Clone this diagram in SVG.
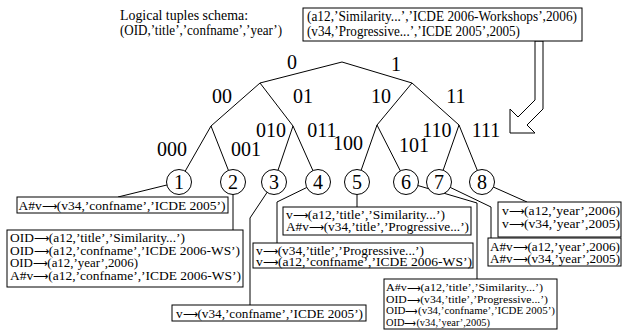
<svg xmlns="http://www.w3.org/2000/svg" width="623" height="330" viewBox="0 0 623 330" font-family="'Liberation Serif', 'Times New Roman', Times, serif">
<style>
text{font-family:'Liberation Serif','Times New Roman',Times,serif;fill:#000}
.t{font-size:12.5px}
.h{font-size:11.3px}
.s{font-size:13.8px}
.a{font-size:10px}
.ah{font-size:9px}
.lab{font-size:20px;text-anchor:middle}
.num{font-size:20px;text-anchor:middle}
.box{fill:#fff;stroke:#000;stroke-width:1}
.e{fill:none;stroke:#000;stroke-width:1}
.n{fill:#fff;stroke:#000;stroke-width:1}
</style>
<rect width="623" height="330" fill="#fff"/>
<g id="connectors">
<polyline class="e" points="260,83 342,62 412,83"/>
<polyline class="e" points="211,126 260,83 293,126"/>
<polyline class="e" points="377,125 412,83 459,125"/>
<polyline class="e" points="179,182 211,126 233,182"/>
<polyline class="e" points="274,182 293,126 318,182"/>
<polyline class="e" points="357,182 377,125 406,182"/>
<polyline class="e" points="439,182 459,125 482,182"/>
<polyline class="e" points="118,197 179,182"/>
<polyline class="e" points="233,182 233,230"/>
<polyline class="e" points="274,182 250,218 250,305"/>
<polyline class="e" points="318,182 277,202 277,243"/>
<polyline class="e" points="357,182 357,207"/>
<polyline class="e" points="406,182 477,203 477,279"/>
<polyline class="e" points="439,182 491,207 491,238"/>
<polyline class="e" points="482,182 527,202"/>
<polygon class="e" points="535,41 535,100 518,117 510,109 510,133 535,133 527,125 543,109 543,41"/>
</g>
<g id="schema">
<text class="s" x="120" y="20" textLength="128" lengthAdjust="spacingAndGlyphs">Logical tuples schema:</text>
<text class="s" x="120" y="35" textLength="162" lengthAdjust="spacingAndGlyphs">(OID,’title’,’confname’,’year’)</text>
</g>
<g id="tuples">
<rect class="box" x="303" y="8" width="279" height="33"/>
<text class="s" x="307" y="21" textLength="270" lengthAdjust="spacingAndGlyphs">(a12,’Similarity...’,’ICDE 2006-Workshops’,2006)</text>
<text class="s" x="307" y="36" textLength="213" lengthAdjust="spacingAndGlyphs">(v34,’Progressive...’,’ICDE 2005’,2005)</text>
</g>
<g id="labels">
<text class="lab" x="292" y="69">0</text>
<text class="lab" x="396" y="71">1</text>
<text class="lab" x="222" y="103">00</text>
<text class="lab" x="303" y="103">01</text>
<text class="lab" x="381" y="103">10</text>
<text class="lab" x="456" y="103">11</text>
<text class="lab" x="172" y="156">000</text>
<text class="lab" x="246" y="156">001</text>
<text class="lab" x="271" y="137">010</text>
<text class="lab" x="322" y="137">011</text>
<text class="lab" x="348" y="150">100</text>
<text class="lab" x="414" y="152">101</text>
<text class="lab" x="437" y="137">110</text>
<text class="lab" x="486" y="137">111</text>
</g>
<g id="node1"><circle class="n" cx="179" cy="182" r="12.5"/><text class="num" x="179" y="189">1</text></g>
<g id="node2"><circle class="n" cx="233" cy="182" r="12.5"/><text class="num" x="233" y="189">2</text></g>
<g id="node3"><circle class="n" cx="274" cy="182" r="12.5"/><text class="num" x="274" y="189">3</text></g>
<g id="node4"><circle class="n" cx="318" cy="182" r="12.5"/><text class="num" x="318" y="189">4</text></g>
<g id="node5"><circle class="n" cx="357" cy="182" r="12.5"/><text class="num" x="357" y="189">5</text></g>
<g id="node6"><circle class="n" cx="406" cy="182" r="12.5"/><text class="num" x="406" y="189">6</text></g>
<g id="node7"><circle class="n" cx="439" cy="182" r="12.5"/><text class="num" x="439" y="189">7</text></g>
<g id="node8"><circle class="n" cx="482" cy="182" r="12.5"/><text class="num" x="482" y="189">8</text></g>
<g id="boxA">
<rect class="box" x="17" y="197" width="211" height="16"/>
<text class="t" x="18.5" y="209.5" textLength="207" lengthAdjust="spacingAndGlyphs">A#v<tspan class="a">⟶</tspan>(v34,’confname’,’ICDE 2005’)</text>
</g>
<g id="boxB">
<rect class="box" x="7" y="230" width="236" height="57"/>
<text class="t" x="10" y="242" textLength="175" lengthAdjust="spacingAndGlyphs">OID<tspan class="a">⟶</tspan>(a12,’title’,’Similarity...’)</text>
<text class="t" x="10" y="254.5" textLength="230" lengthAdjust="spacingAndGlyphs">OID<tspan class="a">⟶</tspan>(a12,’confname’,’ICDE 2006-WS’)</text>
<text class="t" x="10" y="267" textLength="128" lengthAdjust="spacingAndGlyphs">OID<tspan class="a">⟶</tspan>(a12,’year’,2006)</text>
<text class="t" x="10" y="279.5" textLength="231" lengthAdjust="spacingAndGlyphs">A#v<tspan class="a">⟶</tspan>(a12,’confname’,’ICDE 2006-WS’)</text>
</g>
<g id="boxC">
<rect class="box" x="172" y="305" width="194" height="16"/>
<text class="t" x="176" y="317.5" textLength="187" lengthAdjust="spacingAndGlyphs">v<tspan class="a">⟶</tspan>(v34,’confname’,’ICDE 2005’)</text>
</g>
<g id="boxD">
<rect class="box" x="283" y="207" width="188" height="28"/>
<text class="t" x="286" y="219" textLength="159" lengthAdjust="spacingAndGlyphs">v<tspan class="a">⟶</tspan>(a12,’title’,’Similarity...’)</text>
<text class="t" x="286" y="231" textLength="183" lengthAdjust="spacingAndGlyphs">A#v<tspan class="a">⟶</tspan>(v34,’title’,’Progressive...’)</text>
</g>
<g id="boxE">
<rect class="box" x="253" y="243" width="220" height="25"/>
<text class="t" x="256" y="254.5" textLength="168" lengthAdjust="spacingAndGlyphs">v<tspan class="a">⟶</tspan>(v34,’title’,’Progressive...’)</text>
<text class="t" x="256" y="265.5" textLength="216" lengthAdjust="spacingAndGlyphs">v<tspan class="a">⟶</tspan>(a12,’confname’,’ICDE 2006-WS’)</text>
</g>
<g id="boxF">
<rect class="box" x="498" y="202" width="123" height="35"/>
<text class="t" x="502" y="215" textLength="118" lengthAdjust="spacingAndGlyphs">v<tspan class="a">⟶</tspan>(a12,’year’,2006)</text>
<text class="t" x="502" y="227.5" textLength="118" lengthAdjust="spacingAndGlyphs">v<tspan class="a">⟶</tspan>(v34,’year’,2005)</text>
</g>
<g id="boxG">
<rect class="box" x="488" y="238" width="133" height="28"/>
<text class="t" x="490" y="251" textLength="130" lengthAdjust="spacingAndGlyphs">A#v<tspan class="a">⟶</tspan>(a12,’year’,2006)</text>
<text class="t" x="490" y="263" textLength="130" lengthAdjust="spacingAndGlyphs">A#v<tspan class="a">⟶</tspan>(v34,’year’,2005)</text>
</g>
<g id="boxH">
<rect class="box" x="384" y="279" width="173" height="50"/>
<text class="h" x="386" y="291" textLength="157" lengthAdjust="spacingAndGlyphs">A#v<tspan class="ah">⟶</tspan>(a12,’title’,’Similarity...’)</text>
<text class="h" x="386" y="302.5" textLength="162" lengthAdjust="spacingAndGlyphs">OID<tspan class="ah">⟶</tspan>(v34,’title’,’Progressive...’)</text>
<text class="h" x="386" y="314" textLength="169" lengthAdjust="spacingAndGlyphs">OID<tspan class="ah">⟶</tspan>(v34,’confname’,’ICDE 2005’)</text>
<text class="h" x="386" y="325.5" textLength="104" lengthAdjust="spacingAndGlyphs">OID<tspan class="ah">⟶</tspan>(v34,’year’,2005)</text>
</g>
</svg>
